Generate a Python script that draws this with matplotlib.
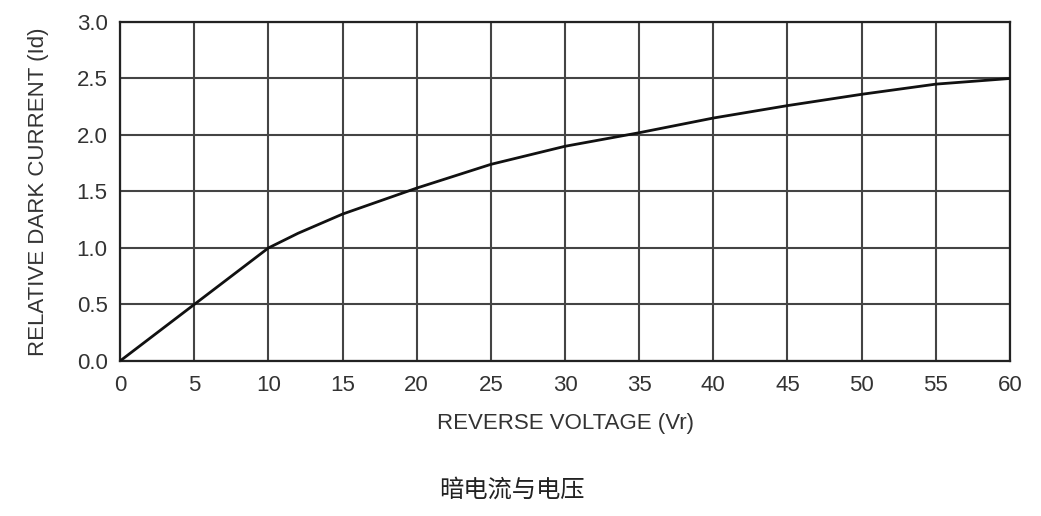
import matplotlib
matplotlib.use("Agg")
import matplotlib.pyplot as plt

voltage = [0, 5, 10, 12, 15, 20, 25, 30, 35, 40, 45, 50, 55, 60]
dark_current = [0.0, 0.5, 1.0, 1.13, 1.30, 1.53, 1.74, 1.90, 2.02, 2.15, 2.26, 2.36, 2.45, 2.50]
x_ticks = list(range(0, 61, 5))
y_ticks = [0.0, 0.5, 1.0, 1.5, 2.0, 2.5, 3.0]

plt.rcParams['font.family'] = ['Liberation Sans', 'Noto Sans CJK SC', 'DejaVu Sans']

fig = plt.figure(figsize=(10.41, 5.16), dpi=100)
ax = fig.add_axes([0.1153, 0.3004, 0.9702 - 0.1153, 0.9574 - 0.3004])

ax.plot(voltage, dark_current, color='#111111', lw=2.0, zorder=3)
ax.set_xlim(0, 60)
ax.set_ylim(0, 3.0)
ax.set_xticks(x_ticks)
ax.set_yticks(y_ticks)
ax.set_yticklabels([f"{v:.1f}" for v in y_ticks])
ax.grid(True, color='#444444', lw=1.5)
ax.tick_params(length=0, labelsize=16, colors='#333333')
ax.tick_params(axis='x', pad=10)
ax.tick_params(axis='y', pad=9)
for s in ax.spines.values():
    s.set_color('#222222')
    s.set_linewidth(1.6)

ax.set_xlabel('REVERSE VOLTAGE (Vr)', fontsize=16, color='#333333', labelpad=12)
ax.set_ylabel('RELATIVE DARK CURRENT (Id)', fontsize=16, color='#333333', labelpad=20)

fig.text(512 / 1041, 1 - 490 / 516, '暗电流与电压', ha='center', va='center',
         fontsize=17.5, color='#222222', family=['Noto Sans CJK SC', 'DejaVu Sans'])

fig.savefig('out.png', dpi=100)
